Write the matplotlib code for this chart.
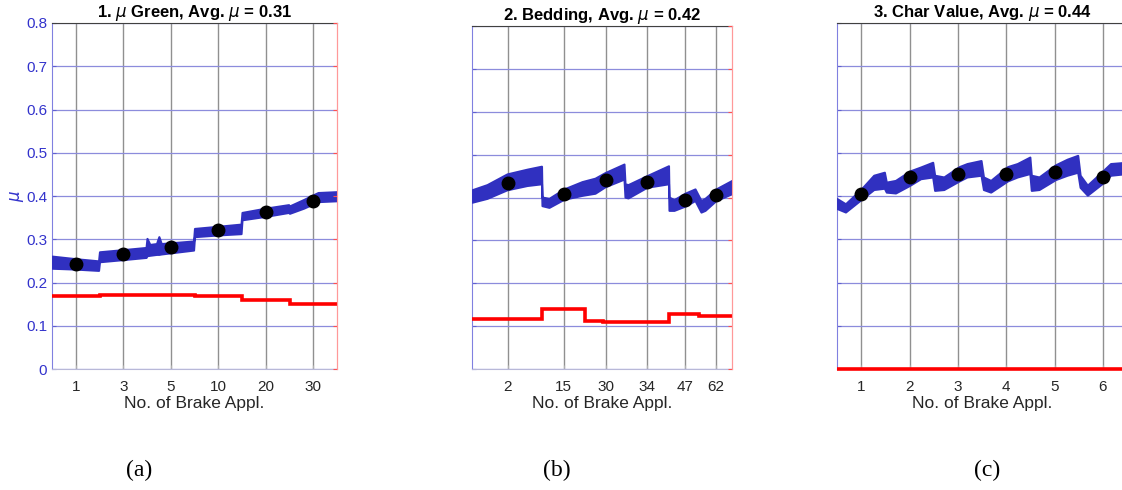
import numpy as np
import matplotlib.pyplot as plt

plt.rcParams['font.family'] = ['Liberation Sans', 'DejaVu Sans']

# 1. mu Green
g_ticks = [0.5, 1.5, 2.5, 3.5, 4.5, 5.5]
g_labels = ["1", "3", "5", "10", "20", "30"]
g_mu = [0.243, 0.266, 0.283, 0.321, 0.364, 0.388]
g_x = [0.0, 0.5, 0.98, 1.0, 1.5, 1.98, 2.0, 2.06, 2.2, 2.25, 2.3, 2.98,
       3.0, 3.5, 3.98, 4.0, 4.5, 4.98, 5.0, 5.3, 5.6, 6.0]
g_lo = [0.233, 0.231, 0.228, 0.248, 0.253, 0.258, 0.262, 0.263, 0.265, 0.265, 0.266, 0.275,
        0.306, 0.310, 0.313, 0.345, 0.353, 0.362, 0.360, 0.372, 0.387, 0.389]
g_hi = [0.261, 0.255, 0.250, 0.271, 0.276, 0.281, 0.302, 0.288, 0.290, 0.306, 0.290, 0.296,
        0.325, 0.330, 0.335, 0.362, 0.372, 0.380, 0.377, 0.392, 0.408, 0.410]
g_red_edges = [0, 1, 2, 3, 4, 5, 6]
g_red = [0.168, 0.171, 0.171, 0.169, 0.160, 0.150]

# 2. Bedding
b_ticks = [3.57, 9.17, 13.37, 17.53, 21.3, 24.4]
b_labels = ["2", "15", "30", "34", "47", "62"]
b_mu = [0.433, 0.407, 0.441, 0.436, 0.395, 0.405]
b_x = [0.0, 1.5, 3.5, 5.5, 6.95, 7.0, 7.7, 9.2, 11.0, 12.3, 13.3, 15.2,
       15.3, 15.6, 17.5, 19.65, 19.7, 20.2, 21.3, 22.3, 22.9, 23.3, 24.4, 26.0]
b_lo = [0.389, 0.398, 0.418, 0.428, 0.432, 0.381, 0.377, 0.396, 0.405, 0.410, 0.425, 0.443,
        0.401, 0.399, 0.424, 0.432, 0.370, 0.370, 0.380, 0.393, 0.366, 0.370, 0.393, 0.409]
b_hi = [0.418, 0.430, 0.455, 0.466, 0.473, 0.401, 0.398, 0.420, 0.437, 0.445, 0.458, 0.478,
        0.432, 0.430, 0.451, 0.474, 0.401, 0.395, 0.410, 0.420, 0.393, 0.398, 0.420, 0.440]
b_red_edges = [0, 6.97, 11.33, 13.13, 19.73, 22.73, 26]
b_red = [0.116, 0.140, 0.112, 0.109, 0.129, 0.124]

# 3. Char Value
c_ticks = [1, 2, 3, 4, 5, 6]
c_labels = ["1", "2", "3", "4", "5", "6"]
c_mu = [0.404, 0.443, 0.452, 0.452, 0.455, 0.444]
c_x = [0.5, 0.675, 1.0, 1.26, 1.48, 1.52, 1.71, 2.01, 2.23, 2.48,
       2.52, 2.71, 3.03, 3.19, 3.48, 3.53, 3.68, 4.03, 4.23, 4.49,
       4.52, 4.68, 5.02, 5.26, 5.48, 5.53, 5.68, 6.0, 6.16, 6.5]
c_lo = [0.371, 0.363, 0.392, 0.415, 0.418, 0.409, 0.407, 0.425, 0.440, 0.444,
        0.413, 0.415, 0.435, 0.444, 0.448, 0.415, 0.409, 0.435, 0.444, 0.452,
        0.413, 0.415, 0.438, 0.448, 0.455, 0.420, 0.402, 0.430, 0.448, 0.452]
c_hi = [0.394, 0.382, 0.416, 0.448, 0.455, 0.432, 0.436, 0.458, 0.467, 0.478,
        0.448, 0.444, 0.468, 0.475, 0.482, 0.444, 0.436, 0.468, 0.475, 0.490,
        0.448, 0.444, 0.472, 0.485, 0.494, 0.448, 0.425, 0.458, 0.475, 0.478]
c_red_edges = [0.5, 6.5]
c_red = [0.0]

y_ticks = [0, 0.1, 0.2, 0.3, 0.4, 0.5, 0.6, 0.7, 0.8]
y_labels = ["0", "0.1", "0.2", "0.3", "0.4", "0.5", "0.6", "0.7", "0.8"]

titles = ["1. $\\mu$ Green, Avg. $\\mu$ = 0.31",
          "2. Bedding, Avg. $\\mu$ = 0.42",
          "3. Char Value, Avg. $\\mu$ = 0.44"]
captions = ["(a)", "(b)", "(c)"]

blue = "#3030c0"
W, H = 1122, 490
fig = plt.figure(figsize=(W / 100, H / 100), dpi=100)

boxes = [(52, 23, 337, 369), (472, 26, 732, 369), (837, 23, 1127, 369)]
xlims = [(0, 6), (0, 26), (0.5, 6.5)]
panels = [(g_x, g_lo, g_hi, g_ticks, g_labels, g_mu, g_red_edges, g_red),
          (b_x, b_lo, b_hi, b_ticks, b_labels, b_mu, b_red_edges, b_red),
          (c_x, c_lo, c_hi, c_ticks, c_labels, c_mu, c_red_edges, c_red)]
cap_x = [139, 557, 987]

for i in range(3):
    l, t, r, b = boxes[i]
    ax = fig.add_axes([l / W, 1 - b / H, (r - l) / W, (b - t) / H])
    x, lo, hi, ticks, labels, mu, redge, red = panels[i]
    ax.fill_between(x, lo, hi, color=blue, lw=1.5, edgecolor=blue, zorder=3)
    ax.stairs(red, redge, baseline=None, color="red", lw=2.6, zorder=3, clip_on=(i != 2))
    ax.plot(ticks, mu, "o", color="black", ms=9, zorder=4)
    ax.set_xlim(*xlims[i])
    ax.set_ylim(0, 0.8)
    ax.set_xticks(ticks)
    ax.set_xticklabels(labels)
    ax.set_yticks(y_ticks)
    ax.set_yticklabels(y_labels)
    ax.xaxis.grid(True, color="#909090", lw=1.0)
    ax.yaxis.grid(True, color="#8c8cdc", lw=0.9)
    ax.set_axisbelow(True)
    ax.tick_params(axis="x", direction="in", length=3, colors="#b0b0b0",
                   labelcolor="#262626", labelsize=11, pad=8)
    ax.tick_params(axis="y", direction="in", length=3, colors="#6060d0",
                   labelcolor="#3333cc", labelsize=11, labelleft=(i == 0))
    ax.spines["left"].set_color("#8080e0")
    ax.spines["bottom"].set_color("#b8b8d8")
    ax.spines["top"].set_color("#404040")
    ax.spines["right"].set_color("#ff9999")
    ax2 = ax.twinx()
    ax2.set_ylim(0, 0.8)
    ax2.set_yticks(y_ticks)
    ax2.tick_params(axis="y", direction="in", length=3, colors="#ff5050", labelright=False)
    for s in ["left", "top", "bottom"]:
        ax2.spines[s].set_visible(False)
    ax2.spines["right"].set_color("#ff9999")
    ax.set_title(titles[i], fontsize=12, fontweight="bold", pad=3)
    ax.set_xlabel("No. of Brake Appl.", fontsize=12.5, color="#262626", labelpad=1)
    if i == 0:
        ax.set_ylabel("$\\mu$", color="#3333cc", fontsize=12, labelpad=0)
    fig.text(cap_x[i] / W, 1 - 470 / H, captions[i], ha="center", va="center",
             fontsize=17, family="Liberation Serif")

fig.savefig("out.png", dpi=100)
